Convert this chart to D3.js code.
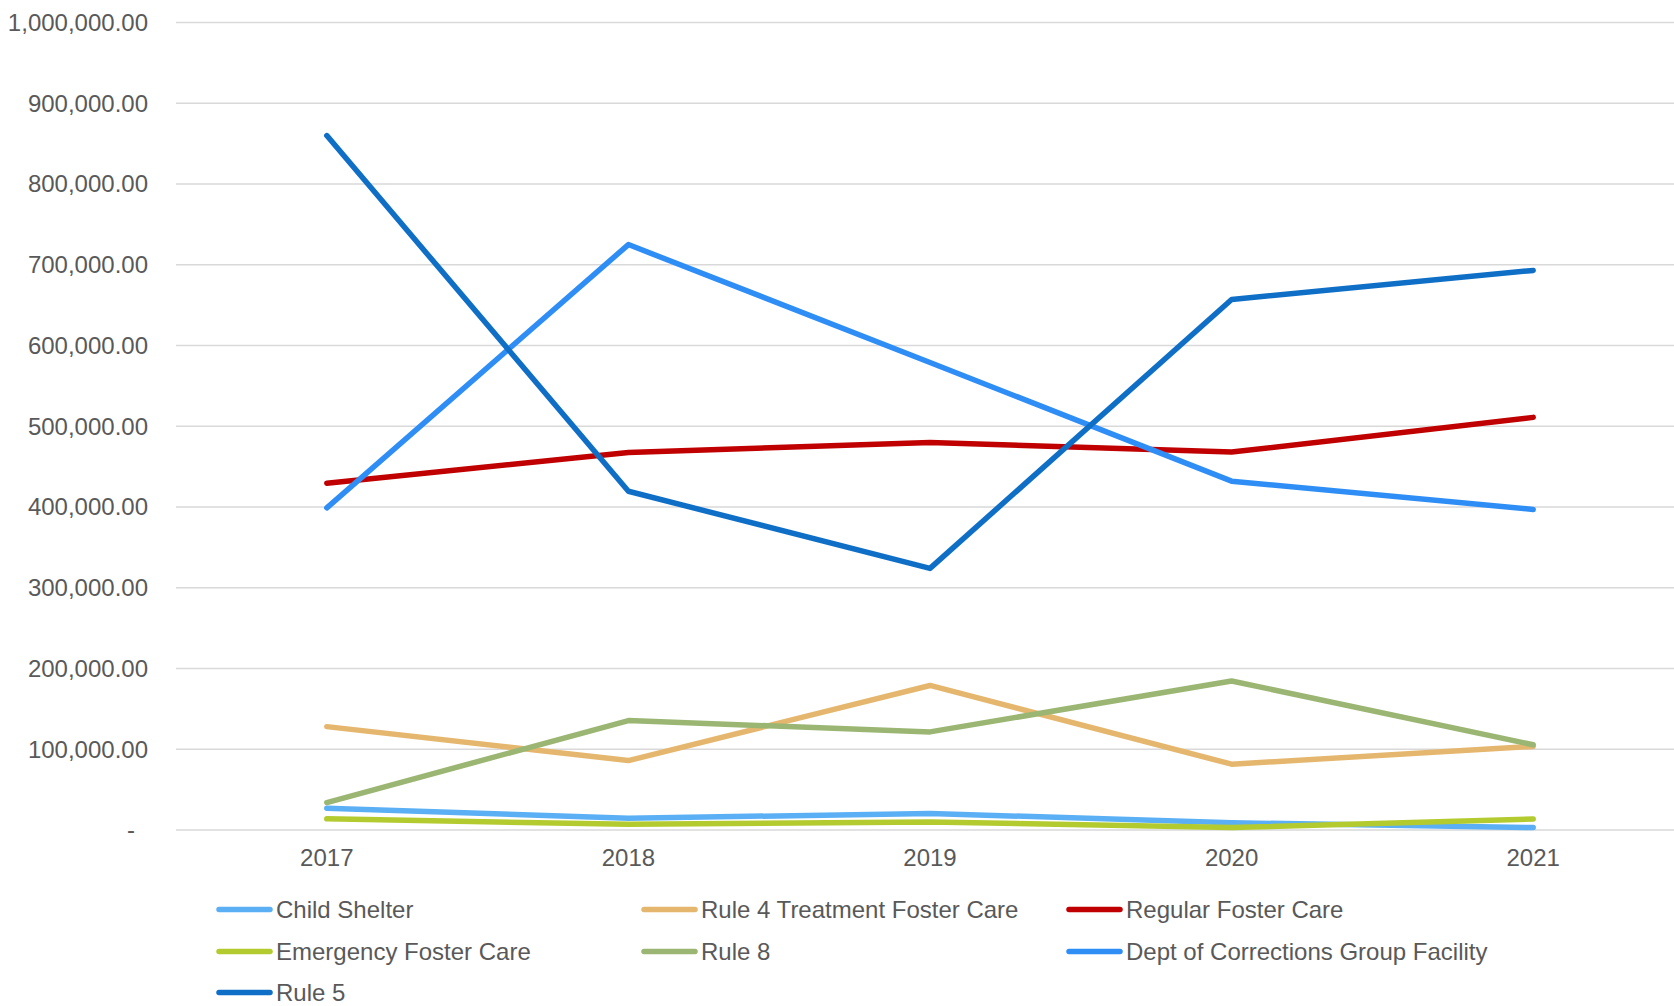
<!DOCTYPE html>
<html>
<head>
<meta charset="utf-8">
<script src="https://cdn.jsdelivr.net/npm/d3@7"></script>
<style>
  html, body { margin: 0; padding: 0; background: #fff; overflow: hidden; }
  svg { display: block; }
  text { font-family: "Liberation Sans", Arial, sans-serif; fill: #595959; }
</style>
</head>
<body>
<svg id="chart" width="1674" height="1006"></svg>
<script>
const years = ["2017", "2018", "2019", "2020", "2021"];
const yTicks = [0, 100000, 200000, 300000, 400000, 500000, 600000, 700000, 800000, 900000, 1000000];

const seriesNames = [
  "Child Shelter",
  "Rule 4 Treatment Foster Care",
  "Regular Foster Care",
  "Emergency Foster Care",
  "Rule 8",
  "Dept of Corrections Group Facility",
  "Rule 5"
];
const childShelter = [27000, 14500, 20500, 9000, 3000];
const rule4 = [128000, 86000, 179000, 81500, 103500];
const regularFoster = [429500, 467500, 480000, 468000, 511000];
const emergencyFoster = [13800, 7000, 10000, 3000, 13600];
const rule8 = [34000, 135500, 121500, 184500, 105500];
const deptCorrections = [399000, 725000, 579000, 432000, 397000];
const rule5 = [860000, 419500, 324000, 657000, 693000];

const seriesColors = ["#5BB0F5", "#E5B76E", "#C00000", "#B4CB2F", "#9BB673", "#2F8EF6", "#0F6FC6"];
const seriesValues = [childShelter, rule4, regularFoster, emergencyFoster, rule8, deptCorrections, rule5];

const svg = d3.select("#chart");

const x = d3.scalePoint().domain(years).range([176, 1684]).padding(0.5);
const y = d3.scaleLinear().domain([0, 1000000]).range([830, 22.5]);

const fmt = d3.format(",.2f");

// gridlines
svg.append("g")
  .selectAll("line")
  .data(yTicks)
  .join("line")
  .attr("x1", 176).attr("x2", 1684)
  .attr("y1", d => y(d)).attr("y2", d => y(d))
  .attr("stroke", "#D9D9D9")
  .attr("stroke-width", 1.3);

// y axis labels
svg.append("g")
  .selectAll("text")
  .data(yTicks)
  .join("text")
  .attr("x", d => d === 0 ? 135 : 148)
  .attr("y", d => y(d))
  .attr("dy", "0.35em")
  .attr("text-anchor", "end")
  .style("font-size", "24px")
  .text(d => d === 0 ? "-" : fmt(d));

// x axis labels
svg.append("g")
  .selectAll("text")
  .data(years)
  .join("text")
  .attr("x", d => x(d))
  .attr("y", 865.5)
  .attr("text-anchor", "middle")
  .style("font-size", "24px")
  .text(d => d);

// lines
const line = d3.line()
  .x((d, i) => x(years[i]))
  .y(d => y(d));

svg.append("g")
  .selectAll("path")
  .data(seriesValues)
  .join("path")
  .attr("d", d => line(d))
  .attr("fill", "none")
  .attr("stroke", (d, i) => seriesColors[i])
  .attr("stroke-width", 5.5)
  .attr("stroke-linecap", "round")
  .attr("stroke-linejoin", "round");

// legend
const legendCols = [219, 644, 1069];
const legendRows = [909.5, 951.5, 992.5];
const leg = svg.append("g")
  .selectAll("g")
  .data(seriesNames)
  .join("g")
  .attr("transform", (d, i) => `translate(${legendCols[i % 3]},${legendRows[Math.floor(i / 3)]})`);

leg.append("line")
  .attr("x1", 0).attr("x2", 51)
  .attr("y1", 0).attr("y2", 0)
  .attr("stroke", (d, i) => seriesColors[i])
  .attr("stroke-width", 5.5)
  .attr("stroke-linecap", "round");

leg.append("text")
  .attr("x", 57)
  .attr("y", 0)
  .attr("dy", "0.35em")
  .style("font-size", "24px")
  .text(d => d);
</script>
</body>
</html>
